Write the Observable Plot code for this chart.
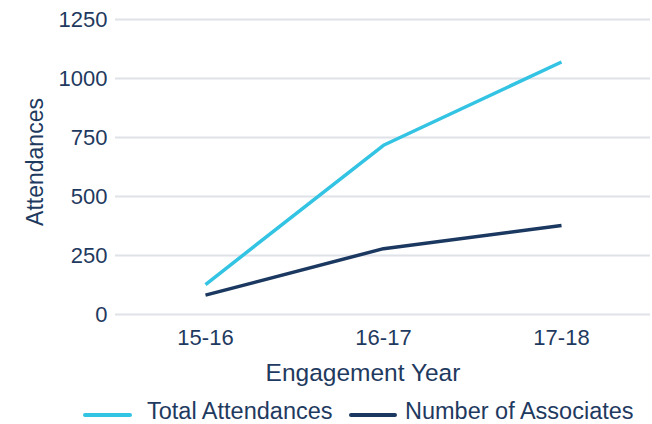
<!DOCTYPE html>
<html>
<head>
<meta charset="utf-8">
<script src="https://cdn.jsdelivr.net/npm/d3@7"></script>
<script src="https://cdn.jsdelivr.net/npm/@observablehq/plot@0.6"></script>
<style>
  html, body { margin: 0; padding: 0; background: #fff; }
  body { width: 652px; height: 424px; overflow: hidden; font-family: "Liberation Sans", Arial, sans-serif; }
  #chart svg { display: block; }
  .legend { position: relative; height: 26px; font-size: 23.5px; color: #1f3a60; }
  .legend .sw { position: absolute; top: 15px; height: 4px; border-radius: 2px; }
  .legend .lb { position: absolute; top: 1.5px; white-space: nowrap; line-height: 22px; }
</style>
</head>
<body>
<div id="chart"></div>
<div class="legend" id="legend"></div>
<script>
// Engagement years and the two series
const years = ["15-16", "16-17", "17-18"];
const totalAttendances = [127, 717, 1070];
const numberOfAssociates = [82, 279, 377];
const yTicks = [0, 250, 500, 750, 1000, 1250];
const seriesNames = ["Total Attendances", "Number of Associates"];
const seriesColors = ["#33c3e3", "#1b3861"];

const rows = [
  ...years.map((y, i) => ({year: y, value: totalAttendances[i], series: seriesNames[0]})),
  ...years.map((y, i) => ({year: y, value: numberOfAssociates[i], series: seriesNames[1]}))
];

const textColor = "#1f3a60";

const chart = Plot.plot({
  width: 652,
  height: 398,
  marginLeft: 115,
  marginRight: 2,
  marginTop: 19,
  marginBottom: 84,
  style: {fontFamily: "'Liberation Sans', Arial, sans-serif", fontSize: "22px", color: textColor, background: "#fff"},
  x: {type: "point", domain: years, padding: 0.5},
  y: {domain: [0, 1250]},
  color: {domain: seriesNames, range: seriesColors},
  marks: [
    Plot.gridY(yTicks, {stroke: "#dfe2e7", strokeOpacity: 1, strokeWidth: 2}),
    Plot.axisY(yTicks, {tickSize: 0, tickPadding: 8, fill: textColor, tickFormat: d => String(d), label: null}),
    Plot.axisX({tickSize: 0, tickPadding: 15, fill: textColor, label: null}),
    // axis titles
    Plot.text(["Engagement Year"], {frameAnchor: "bottom", dx: -20, dy: 59, fontSize: 24.5, fill: textColor, lineAnchor: "middle"}),
    Plot.text(["Attendances"], {frameAnchor: "left", dx: -80, dy: -5, rotate: -90, fontSize: 23, fill: textColor, textAnchor: "middle", lineAnchor: "middle"}),
    Plot.line(rows, {x: "year", y: "value", z: "series", stroke: "series", strokeWidth: 3.5, strokeLinecap: "butt", strokeLinejoin: "round"})
  ]
});
document.getElementById("chart").appendChild(chart);

// Legend below the plot
const legend = document.getElementById("legend");
const layout = [
  {swLeft: 83, swWidth: 49, textLeft: 147},
  {swLeft: 349, swWidth: 48, textLeft: 405}
];
seriesNames.forEach((name, i) => {
  const sw = document.createElement("div");
  sw.className = "sw";
  sw.style.left = layout[i].swLeft + "px";
  sw.style.width = layout[i].swWidth + "px";
  sw.style.background = seriesColors[i];
  legend.appendChild(sw);
  const lb = document.createElement("div");
  lb.className = "lb";
  lb.style.left = layout[i].textLeft + "px";
  lb.textContent = name;
  legend.appendChild(lb);
});
</script>
</body>
</html>
